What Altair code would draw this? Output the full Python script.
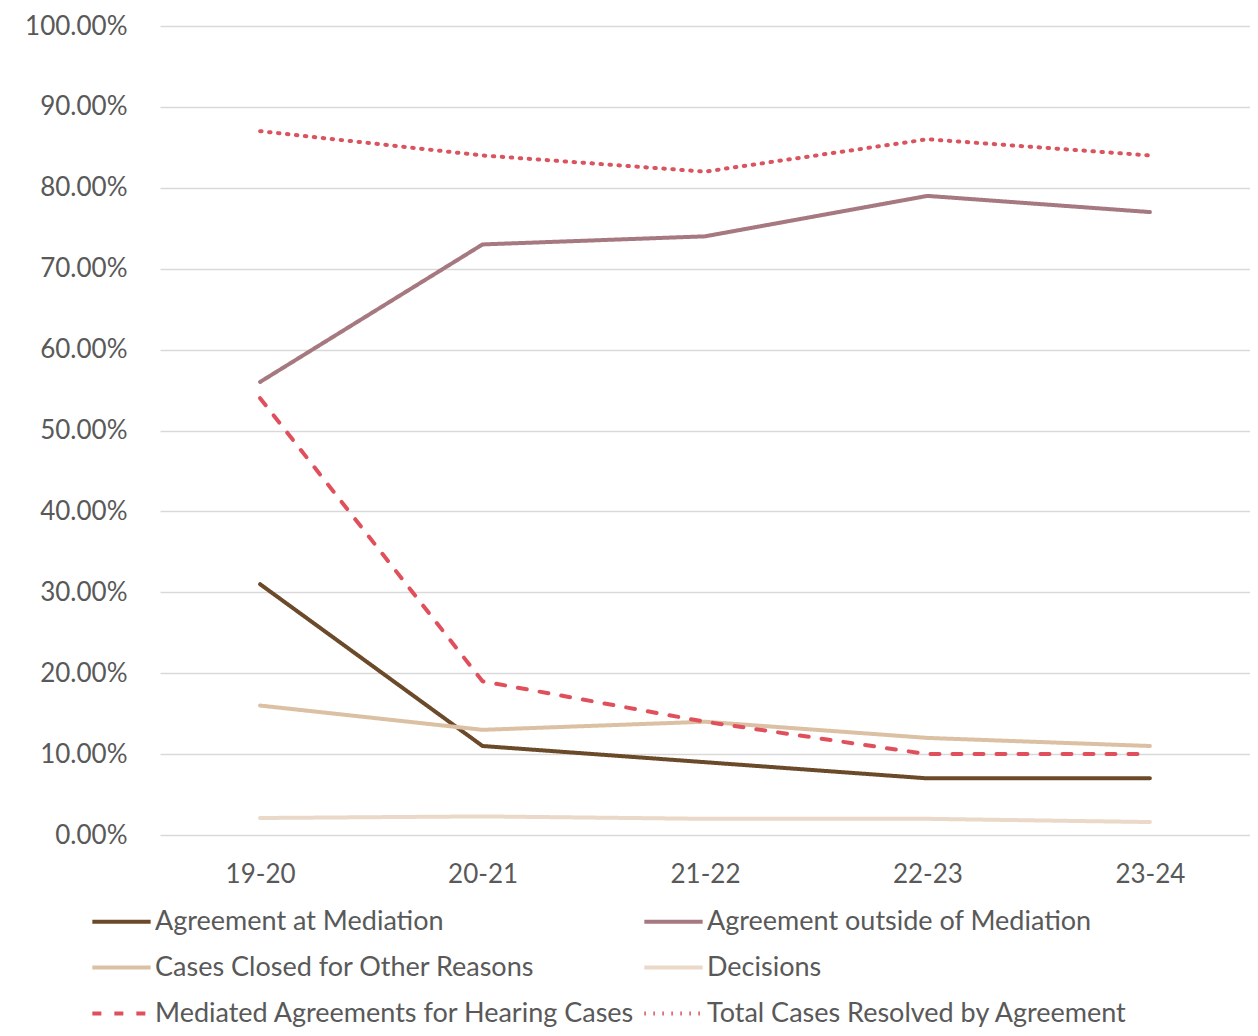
import altair as alt
import pandas as pd

periods = ["19-20", "20-21", "21-22", "22-23", "23-24"]
series_names = [
    "Agreement at Mediation",
    "Agreement outside of Mediation",
    "Cases Closed for Other Reasons",
    "Decisions",
    "Mediated Agreements for Hearing Cases",
    "Total Cases Resolved by Agreement",
]
agreement_at_mediation = [31.0, 11.0, 9.0, 7.0, 7.0]
agreement_outside = [56.0, 73.0, 74.0, 79.0, 77.0]
cases_closed_other = [16.0, 13.0, 14.0, 12.0, 11.0]
decisions = [2.1, 2.3, 2.0, 2.0, 1.6]
mediated_hearing = [54.0, 19.0, 14.0, 10.0, 10.0]
total_resolved = [87.0, 84.0, 82.0, 86.0, 84.0]

values = [agreement_at_mediation, agreement_outside, cases_closed_other,
          decisions, mediated_hearing, total_resolved]
colors = ["#6B4A2A", "#A67880", "#DCC0A3", "#EAD8C8", "#E0505C", "#D9545E"]
dashes = [[1, 0], [1, 0], [1, 0], [1, 0], [9, 13], [1.5, 7.5]]

# legend lays entries out column by column; order so it reads row by row
legend_order = [0, 2, 4, 1, 3, 5]
dom = [series_names[i] for i in legend_order]
col_rng = [colors[i] for i in legend_order]
dash_rng = [dashes[i] for i in legend_order]

rows = []
for name, vals in zip(series_names, values):
    for p, v in zip(periods, vals):
        rows.append({"period": p, "series": name, "value": v / 100.0})
df = pd.DataFrame(rows)

FONT = "Lato"

chart = alt.Chart(df).mark_line(strokeWidth=4, strokeCap="round", strokeJoin="round").encode(
    x=alt.X("period:N", sort=periods,
            scale=alt.Scale(type="point", padding=0.45),
            axis=alt.Axis(title=None, labelAngle=0, domain=False, ticks=False,
                          labelPadding=26, labelFontSize=26, labelFont=FONT,
                          labelColor="#595959", grid=False)),
    y=alt.Y("value:Q", scale=alt.Scale(domain=[0, 1], nice=False),
            axis=alt.Axis(title=None, format=".2%", values=[i / 10 for i in range(11)],
                          domain=False, ticks=False, labelPadding=33,
                          labelFontSize=26, labelFont=FONT, labelColor="#595959",
                          gridColor="#D9D9D9", gridWidth=1.5)),
    color=alt.Color("series:N", sort=dom,
                    scale=alt.Scale(domain=dom, range=col_rng),
                    legend=alt.Legend(title=None, orient="none", legendX=-70, legendY=864,
                                      columns=2, symbolType="stroke", symbolSize=3400,
                                      symbolStrokeWidth=4, labelFontSize=27,
                                      labelFont=FONT, labelColor="#595959",
                                      labelOffset=2, rowPadding=1, columnPadding=1,
                                      labelLimit=700)),
    strokeDash=alt.StrokeDash("series:N", sort=dom,
                              scale=alt.Scale(domain=dom, range=dash_rng),
                              legend=None),
)

chart = chart.properties(
    width=1090, height=809,
    autosize=alt.AutoSizeParams(type="none"),
    padding={"left": 152, "top": 18, "right": 0, "bottom": 193},
).configure_view(stroke=None)

chart.save("out.html", embed_options={"renderer": "svg", "actions": False})
